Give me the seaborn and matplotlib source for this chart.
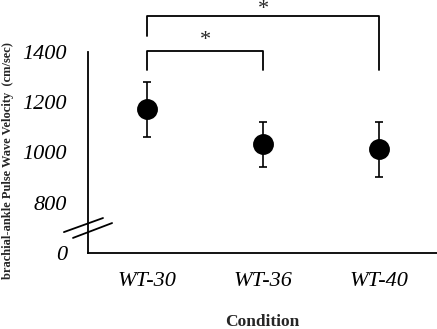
import matplotlib
matplotlib.use("Agg")
import matplotlib.pyplot as plt
import seaborn as sns
import pandas as pd
import numpy as np

conditions = ["WT-30", "WT-36", "WT-40"]
means = [1172, 1032, 1012]
errors = [110, 88, 110]
ytick_values = [600, 800, 1000, 1200, 1400]
ytick_labels = ["0", "800", "1000", "1200", "1400"]

sns.set_style("white")
plt.rcParams['font.family'] = ['Liberation Serif', 'DejaVu Serif']

df = pd.DataFrame({"Condition": conditions, "Velocity": means})

fig = plt.figure(figsize=(4.37, 3.29), dpi=100)
ax = fig.add_axes([88/437, 1-253/329, (437-88)/437, (253-52)/329])

sns.pointplot(data=df, x="Condition", y="Velocity", errorbar=None,
              linestyle="none", color="black", markers="o",
              markersize=13, ax=ax, zorder=3)
xs = np.arange(len(conditions))
ax.errorbar(xs, means, yerr=errors, fmt="none", ecolor="black",
            elinewidth=1.2, capsize=3, capthick=1.2, zorder=2)

ax.set_xlim(-0.51, 2.5)
ax.set_ylim(600, 1400)
ax.set_yticks(ytick_values)
ax.set_yticklabels(ytick_labels)
for s in ["top", "right"]:
    ax.spines[s].set_visible(False)
for s in ["left", "bottom"]:
    ax.spines[s].set_linewidth(1.3)
    ax.spines[s].set_color("black")
ax.tick_params(direction="in", length=4, width=1.3, colors="black", pad=15)
for lab in ax.get_yticklabels() + ax.get_xticklabels():
    lab.set_fontstyle("italic")
    lab.set_fontsize(16)
ax.tick_params(axis="y", pad=15)
ax.tick_params(axis="x", pad=14)
ax.set_xlabel("Condition", fontsize=12.5, fontweight="bold")
ax.xaxis.set_label_coords(0.5, -0.343)
ax.xaxis.label.set_va("center")
ax.set_ylabel("brachial-ankle Pulse Wave Velocity  (cm/sec)", fontsize=9,
              fontweight="bold")
ax.yaxis.set_label_coords(-0.229, 0.458)
ax.yaxis.label.set_va("center")

# significance brackets
ax.plot([0, 0, 1, 1], [1328, 1404, 1404, 1328], color="black", lw=1.3, clip_on=False)
ax.plot([0, 0, 2, 2], [1464, 1544, 1544, 1328], color="black", lw=1.3, clip_on=False)
ax.text(0.5, 1446, "*", ha="center", va="center", fontsize=16, clip_on=False)
ax.text(1.0, 1570, "*", ha="center", va="center", fontsize=16, clip_on=False)

# axis break marks
ax.plot([-0.069, 0.043], [0.104, 0.174], color="black", lw=1.3,
        transform=ax.transAxes, clip_on=False)
ax.plot([-0.043, 0.069], [0.075, 0.149], color="black", lw=1.3,
        transform=ax.transAxes, clip_on=False)

fig.savefig("out.png", dpi=100)
